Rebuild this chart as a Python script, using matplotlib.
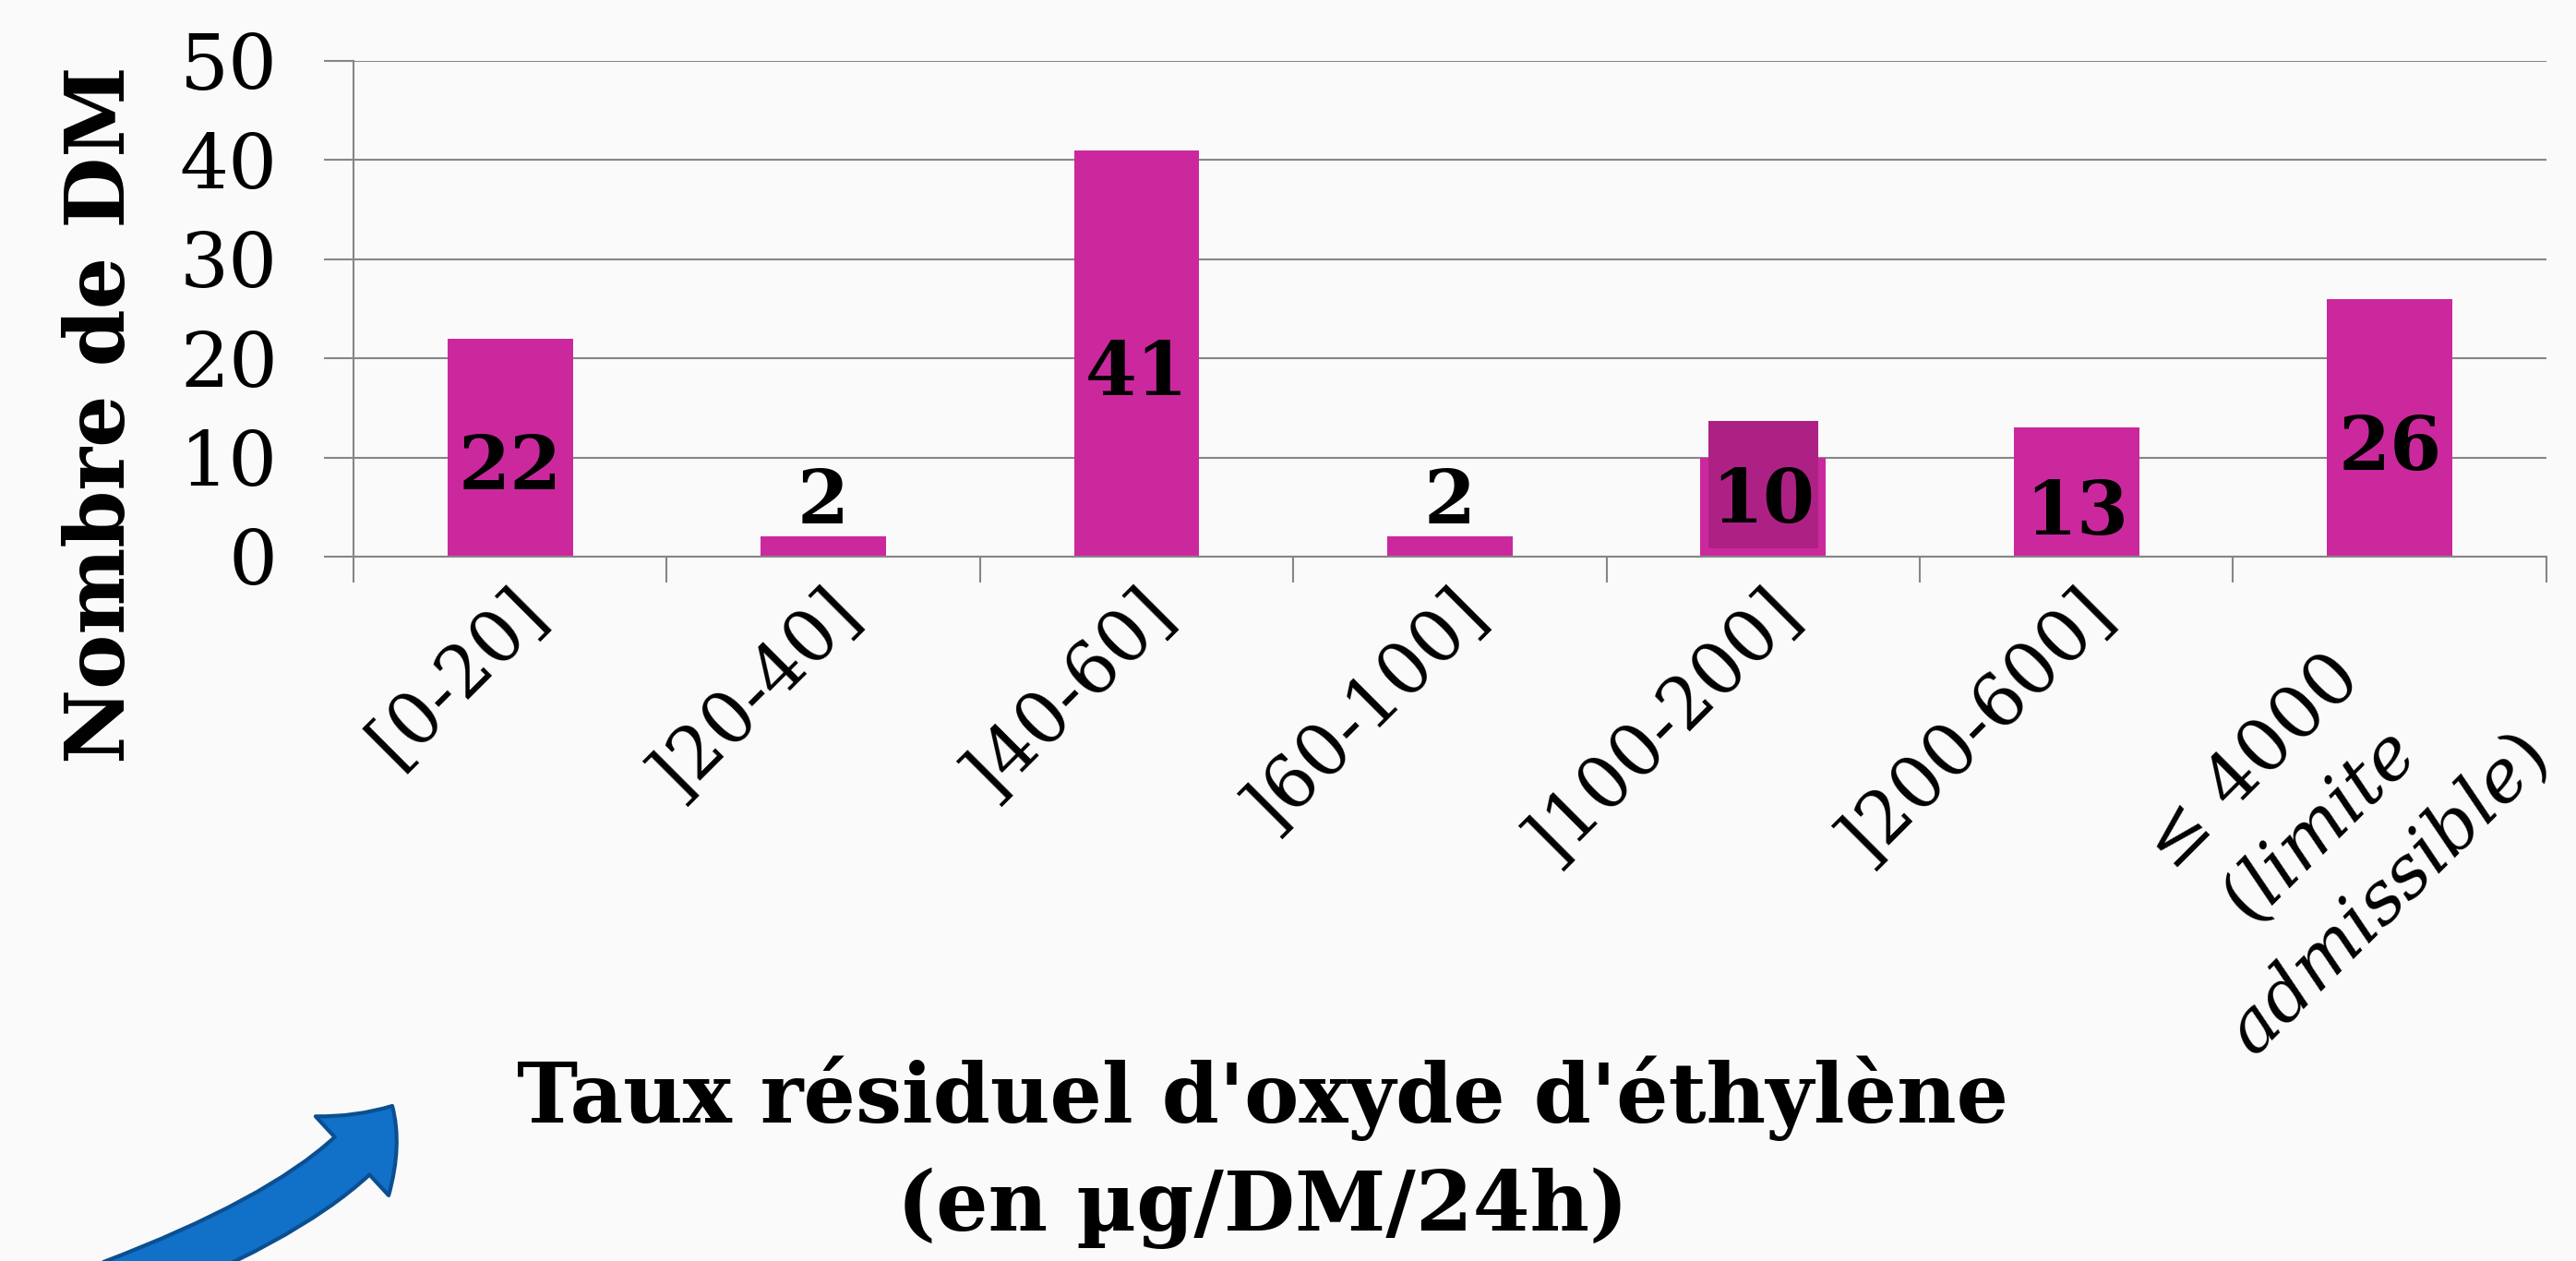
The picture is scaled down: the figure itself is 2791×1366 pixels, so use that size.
import numpy as np
import matplotlib
matplotlib.use("Agg")
from matplotlib import pyplot as plt
from matplotlib.patches import FancyArrowPatch
from matplotlib.path import Path
import matplotlib.transforms as mtransforms

# data
categories = ["[0-20]", "]20-40]", "]40-60]", "]60-100]", "]100-200]", "]200-600]",
              "≤ 4000\n$\\mathit{(limite}$\n$\\mathit{admissible)}$"]
values = [22, 2, 41, 2, 10, 13, 26]
# darker highlight box drawn over the ]100-200] bar
highlight_idx = 4
highlight_bottom = 0.8
highlight_top = 13.7

bar_color = "#CB289E"
dark_color = "#AD2184"
grid_color = "#868686"

plt.rcParams["font.family"] = ["DejaVu Serif"]
plt.rcParams["mathtext.fontset"] = "custom"
plt.rcParams["mathtext.it"] = "DejaVu Serif:italic"
plt.rcParams["mathtext.rm"] = "DejaVu Serif"

fig = plt.figure(figsize=(27.91, 13.66), dpi=100)
fig.patch.set_facecolor("#FAFAFA")
ax = fig.add_axes([0.1372, 0.5586, 0.8513, 0.3931])
ax.set_facecolor("none")

x = np.arange(len(values))
ax.bar(x, values, width=0.40, color=bar_color, zorder=2)
ax.bar(x[highlight_idx], highlight_top - highlight_bottom, bottom=highlight_bottom,
       width=0.35, color=dark_color, zorder=3)

# value labels (the 10 sits in the middle of the highlight box)
for i, v in enumerate(values):
    if i == highlight_idx:
        y = (highlight_bottom + highlight_top) / 2 - 1.8
    elif v >= 10:
        y = v / 2 - 2.2
    else:
        y = v + 3.4
    ax.text(x[i], y, str(v), ha="center", va="center",
            fontsize=58, fontweight="bold", color="black", zorder=4)

ax.set_xlim(-0.5, len(values) - 0.5)
ax.set_ylim(0, 50)
ax.set_yticks(np.arange(0, 51, 10))
ax.yaxis.grid(True, color=grid_color, linewidth=1.5)
ax.set_axisbelow(True)

for s in ["top", "right"]:
    ax.spines[s].set_visible(False)
for s in ["left", "bottom"]:
    ax.spines[s].set_color(grid_color)
    ax.spines[s].set_linewidth(1.5)

ax.tick_params(axis="y", direction="out", length=23, width=1.5, color=grid_color,
               labelsize=60, pad=36)
ax.set_xticks(x)
ax.set_xticks(np.arange(-0.5, len(values), 1.0), minor=True)
ax.tick_params(axis="x", which="major", length=0, pad=15, labelsize=56)
ax.tick_params(axis="x", which="minor", direction="out", length=20, width=1.5,
               color=grid_color)
ax.set_xticklabels(categories)
for lab in ax.get_xticklabels():
    lab.set_rotation(45)
    lab.set_rotation_mode("anchor")
    lab.set_ha("right")
    lab.set_va("top")
    lab.set_multialignment("center")

# the three-line last label sits a bit lower, close to the right edge
last = ax.get_xticklabels()[-1]
last.set_fontsize(57)
last.set_linespacing(1.45)
last.set_transform(last.get_transform()
                   + mtransforms.ScaledTranslation(-0.14, -0.14, fig.dpi_scale_trans))

fig.text(0.0395, 0.671, "Nombre de DM", rotation=90, ha="center", va="center",
         fontsize=64, fontweight="bold")
fig.text(0.49, 0.086, "Taux résiduel d'oxyde d'éthylène\n(en µg/DM/24h)",
         ha="center", va="center", fontsize=64, fontweight="bold", linespacing=1.42)

# blue curved arrow bottom left (quadratic curve, figure fractions)
W, H = 2791.0, 1366.0
arrow_path = Path([(122 / W, -27 / H), (372 / W, 68 / H), (425 / W, 168 / H)],
                  [Path.MOVETO, Path.CURVE3, Path.CURVE3])
arrow = FancyArrowPatch(path=arrow_path, transform=fig.transFigure,
                        arrowstyle="simple,tail_width=40,head_width=84,head_length=50",
                        facecolor="#1170C8", edgecolor="#0B4F91", linewidth=3,
                        clip_on=False)
fig.patches.append(arrow)

fig.savefig("out.png", dpi=100, facecolor=fig.get_facecolor())
